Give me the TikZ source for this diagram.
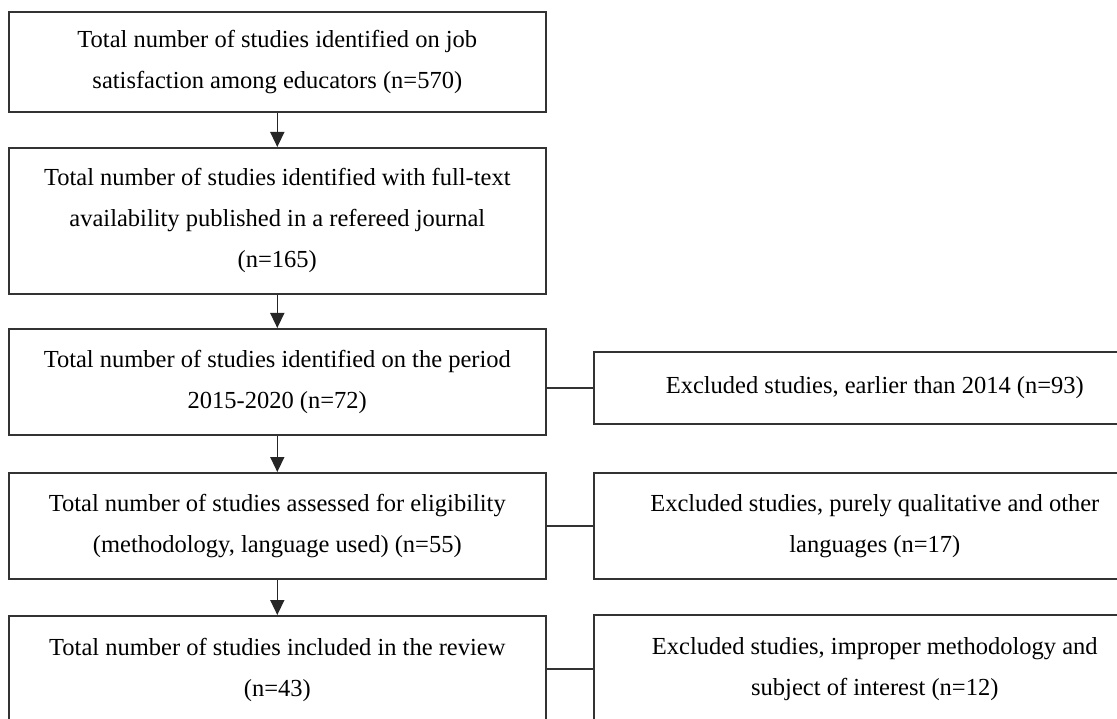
\documentclass[tikz,border=0pt]{standalone}
\usepackage{fontspec}
\setmainfont{Liberation Serif}
\usetikzlibrary{arrows.meta}
\begin{document}
\begin{tikzpicture}[x=1pt,y=-1pt,
  box/.style={draw=black!80, line width=1.6pt, anchor=north west, inner sep=0pt,
    align=center, font=\fontsize{24.5}{41}\selectfont},
  lbox/.style={box, minimum width=537pt},
  rbox/.style={box, minimum width=562pt},
  arr/.style={draw=black!85, line width=1.5pt, -{Triangle[length=15pt,width=14pt]}},
  link/.style={draw=black!80, line width=1.5pt}]
\useasboundingbox (0,0) rectangle (1117,719);
\clip (0,0) rectangle (1117,719);
\node[lbox, minimum height=100pt] (b1) at (8,11)
  {Total number of studies identified on job\\satisfaction among educators (n=570)};
\node[lbox, minimum height=146pt] (b2) at (8,147)
  {Total number of studies identified with full-text\\availability published in a refereed journal\\(n=165)};
\node[lbox, minimum height=106pt] (b3) at (8,328)
  {Total number of studies identified on the period\\2015-2020 (n=72)};
\node[lbox, minimum height=106pt] (b4) at (8,472)
  {Total number of studies assessed for eligibility\\(methodology, language used) (n=55)};
\node[lbox, minimum height=108pt] (b5) at (8,615)
  {Total number of studies included in the review\\(n=43)};
\node[rbox, minimum height=72pt] (r1) at (593,351)
  {Excluded studies, earlier than 2014 (n=93)};
\node[rbox, minimum height=106pt] (r2) at (593,472)
  {Excluded studies, purely qualitative and other\\languages (n=17)};
\node[rbox, minimum height=108pt] (r3) at (593,614)
  {Excluded studies, improper methodology and\\subject of interest (n=12)};
\draw[arr] (b1.south) -- (b2.north);
\draw[arr] (b2.south) -- (b3.north);
\draw[arr] (b3.south) -- (b4.north);
\draw[arr] (b4.south) -- (b5.north);
\draw[link] (b3.east |- r1.west) -- (r1.west);
\draw[link] (b4.east) -- (r2.west);
\draw[link] (b5.east |- r3.west) -- (r3.west);
\end{tikzpicture}
\end{document}
